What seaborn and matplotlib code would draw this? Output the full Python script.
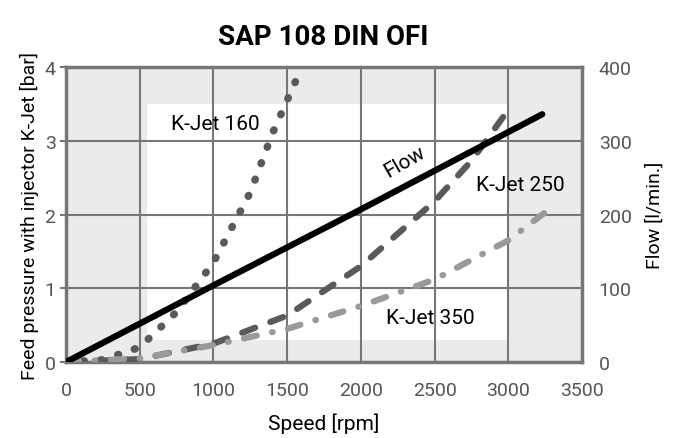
import matplotlib
matplotlib.use("Agg")
import matplotlib.pyplot as plt
import matplotlib.patches as mpatches
import seaborn as sns
import pandas as pd

# values
kjet160_rpm = [0, 250, 500, 750, 1000, 1250, 1400, 1500, 1600]
kjet160_bar = [0, 0.03, 0.2, 0.68, 1.35, 2.3, 3.1, 3.55, 4.0]

kjet250_rpm = [0, 500, 1000, 1500, 2000, 2500, 2750, 3000]
kjet250_bar = [0, 0.04, 0.25, 0.63, 1.3, 2.18, 2.73, 3.42]

kjet350_rpm = [0, 500, 1000, 1500, 2000, 2500, 3000, 3250]
kjet350_bar = [0, 0.05, 0.23, 0.45, 0.76, 1.12, 1.65, 2.03]

flow_rpm = [0, 1000, 2000, 3230]
flow_lpm = [0, 104, 207, 336]

x_ticks = [0, 500, 1000, 1500, 2000, 2500, 3000, 3500]
y_ticks = [0, 1, 2, 3, 4]
flow_ticks = [0, 100, 200, 300, 400]

sns.set_theme(style="white")
plt.rcParams['font.family'] = ['Roboto', 'DejaVu Sans']

grid_col = "#777777"
text_col = "#555555"

fig = plt.figure(figsize=(6.8, 4.39), dpi=100)
ax = fig.add_axes([0.097, 0.173, 0.759, 0.672])
ax.set_facecolor("#ebebeb")
ax.add_patch(mpatches.Rectangle((550, 0.3), 2450, 3.2, facecolor="white",
                                edgecolor="none", zorder=0))

d160 = pd.DataFrame({"rpm": kjet160_rpm, "bar": kjet160_bar})
d250 = pd.DataFrame({"rpm": kjet250_rpm, "bar": kjet250_bar})
d350 = pd.DataFrame({"rpm": kjet350_rpm, "bar": kjet350_bar})
dflow = pd.DataFrame({"rpm": flow_rpm, "flow": flow_lpm})

sns.lineplot(data=d160, x="rpm", y="bar", ax=ax, color="#5a5a5a", lw=5.5, zorder=3)
ax.lines[-1].set_linestyle((0, (0.1, 2.2)))
ax.lines[-1].set_dash_capstyle("round")
sns.lineplot(data=d250, x="rpm", y="bar", ax=ax, color="#5a5a5a", lw=4.5, zorder=3)
ax.lines[-1].set_linestyle((0, (2.2, 2.6)))
ax.lines[-1].set_dash_capstyle("round")
sns.lineplot(data=d350, x="rpm", y="bar", ax=ax, color="#9a9a9a", lw=4.5, zorder=3)
ax.lines[-1].set_linestyle((0, (2.1, 2.5, 0.1, 2.5)))
ax.lines[-1].set_dash_capstyle("round")

ax.set_xlim(0, 3500)
ax.set_ylim(0, 4)
ax.set_xticks(x_ticks)
ax.set_yticks(y_ticks)
ax.grid(True, color=grid_col, lw=1.5, zorder=1)
ax.set_axisbelow(True)
for s in ax.spines.values():
    s.set_color(grid_col)
    s.set_linewidth(2.5)
ax.tick_params(colors=text_col, labelsize=14, length=4, width=1.5, color=grid_col)
ax.tick_params(axis="x", pad=10)
ax.set_xlabel("Speed [rpm]", fontsize=15, color="black", labelpad=9)
ax.set_ylabel("Feed pressure with injector K-Jet [bar]", fontsize=14, color="black", labelpad=4)

ax2 = ax.twinx()
sns.lineplot(data=dflow, x="rpm", y="flow", ax=ax2, color="black", lw=4.5,
             solid_capstyle="round", zorder=4)
ax2.set_ylim(0, 400)
ax2.set_yticks(flow_ticks)
ax2.grid(False)
for s in ax2.spines.values():
    s.set_visible(False)
ax2.tick_params(colors=text_col, labelsize=14, length=0, pad=12)
ax2.set_ylabel("Flow [l/min.]", fontsize=14, color="black", labelpad=10)
ax2.set_xlabel("")

ax.text(1010, 3.23, "K-Jet 160", fontsize=15, ha="center", va="center", color="black", zorder=5)
ax.text(2300, 2.72, "Flow", fontsize=15, ha="center", va="center", color="black",
        rotation=30, zorder=5)
ax.text(3080, 2.41, "K-Jet 250", fontsize=15, ha="center", va="center", color="black", zorder=5)
ax.text(2470, 0.61, "K-Jet 350", fontsize=15, ha="center", va="center", color="black", zorder=5)

fig.text(0.476, 0.915, "SAP 108 DIN OFI", fontsize=20, fontweight="bold",
         ha="center", va="center", color="black")

fig.savefig("out.png", dpi=100)
